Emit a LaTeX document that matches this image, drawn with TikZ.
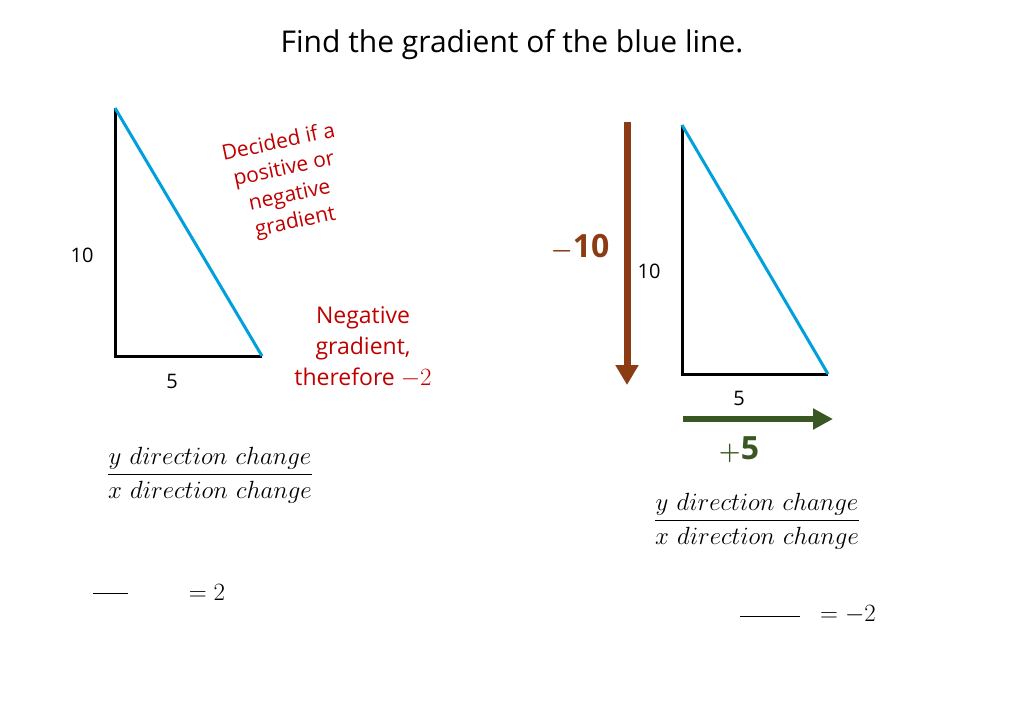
\documentclass[tikz,border=0pt]{standalone}
\usepackage{fontspec}
\setmainfont{Open Sans}
\usepackage{amsmath}
\usetikzlibrary{arrows.meta}
\begin{document}
\begin{tikzpicture}[x=1pt,y=-1pt,
  tri/.style={line width=3pt,black},
  hyp/.style={line width=3pt,color={rgb,255:red,0;green,160;blue,220}},
  lbl/.style={font=\fontsize{20}{24}\selectfont},
  red/.style={text={rgb,255:red,192;green,0;blue,0},font=\fontsize{23}{31}\selectfont,align=center},
  frac/.style={font=\fontsize{32}{38}\selectfont}]
\useasboundingbox (0,0) rectangle (1024,709);
\node (title) at (512,45) {\fontsize{30}{36}\selectfont Find the gradient of the blue line.};
% left triangle
\coordinate (LA) at (115,108); \coordinate (LB) at (115,356); \coordinate (LC) at (262,356);
\draw[tri] (LA) -- (LB) -- (LC);
\draw[hyp] (LA) -- (LC);
\node[lbl] (l10) at (82,255) {10};
\node[lbl] (l5) at (172,381) {5};
\node[red,rotate=12,font=\fontsize{21}{27}\selectfont] (dec) at (287,183) {Decided if a\\positive or\\negative\\gradient};
\node[red] (neg) at (363,347) {Negative\\gradient,\\therefore $-2$};
\node[frac] (f1) at (210,475) {$\dfrac{y\ direction\ change}{x\ direction\ change}$};
\coordinate (s1) at (93,593); \coordinate (s2) at (128,593);
\draw[line width=0.8pt] (s1) -- (s2);
\node[frac] (eq1) at (207,592) {$=2$};
% right
\coordinate (BA) at (627,122); \coordinate (BB) at (627,385);
\draw[line width=7pt,color={rgb,255:red,140;green,60;blue,20},-{Triangle[length=20pt,width=22pt]}] (BA) -- (BB);
\node[text={rgb,255:red,140;green,60;blue,20},font=\fontsize{32}{36}\selectfont] (m10) at (580,248) {$\boldsymbol{-}\mathbf{10}$};
\coordinate (RA) at (682,125); \coordinate (RB) at (682,374); \coordinate (RC) at (828,374);
\draw[tri] (RA) -- (RB) -- (RC);
\draw[hyp] (RA) -- (RC);
\node[lbl] (r10) at (649,271) {10};
\node[lbl] (r5) at (739,398) {5};
\coordinate (GA) at (683,419); \coordinate (GB) at (833,419);
\draw[line width=6pt,color={rgb,255:red,56;green,87;blue,35},-{Triangle[length=20pt,width=20pt]}] (GA) -- (GB);
\node[text={rgb,255:red,56;green,87;blue,35},font=\fontsize{32}{36}\selectfont] (p5) at (739,450) {$\boldsymbol{+}\mathbf{5}$};
\node[frac] (f2) at (757,521) {$\dfrac{y\ direction\ change}{x\ direction\ change}$};
\coordinate (t1) at (740,616); \coordinate (t2) at (800,616);
\draw[line width=0.8pt] (t1) -- (t2);
\node[frac] (eq2) at (848,615) {$=-2$};
\end{tikzpicture}
\end{document}
